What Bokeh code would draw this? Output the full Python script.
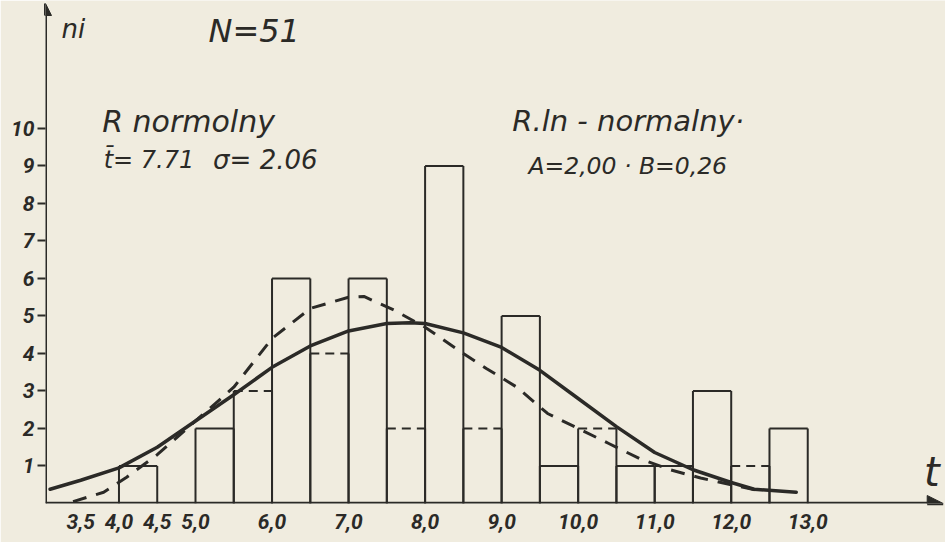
from bokeh.plotting import figure
from bokeh.models import Label, Arrow, NormalHead, FixedTicker, Range1d, ColumnDataSource
from bokeh.embed import file_html
from bokeh.resources import INLINE

# ---------------- data ----------------
n_total = 51
bin_lefts = [4.0, 4.5, 5.0, 5.5, 6.0, 6.5, 7.0, 7.5, 8.0, 8.5, 9.0, 9.5, 10.0, 10.5, 11.0, 11.5, 12.0, 12.5]
bin_width = 0.5
counts = [1, 0, 2, 3, 6, 4, 6, 2, 9, 2, 5, 1, 2, 1, 1, 3, 1, 2]
dashed_top_bins = [5.5, 6.5, 7.5, 8.5, 10.0, 12.0]

# normal curve (solid)
normal_t = [3.1, 3.5, 4.0, 4.5, 5.0, 5.5, 6.0, 6.5, 7.0, 7.5, 7.8, 8.0, 8.5, 9.0, 9.5, 10.0, 10.5, 11.0, 11.5, 12.0, 12.3, 12.85]
normal_n = [0.38, 0.62, 0.95, 1.5, 2.2, 2.9, 3.63, 4.2, 4.6, 4.8, 4.82, 4.8, 4.55, 4.16, 3.55, 2.8, 2.05, 1.36, 0.9, 0.56, 0.38, 0.3]

# log-normal curve (dashed)
lognormal_t = [3.4, 3.8, 4.1, 4.5, 5.0, 5.5, 6.0, 6.5, 7.0, 7.2, 7.6, 8.0, 8.5, 8.8, 9.2, 9.6, 10.0, 10.4, 10.8, 11.2, 11.6, 12.0, 12.4]
lognormal_n = [0.05, 0.3, 0.7, 1.3, 2.2, 3.1, 4.4, 5.2, 5.5, 5.52, 5.15, 4.7, 4.0, 3.6, 3.1, 2.4, 2.0, 1.6, 1.2, 0.9, 0.68, 0.5, 0.33]

x_ticks = [3.5, 4.0, 4.5, 5.0, 6.0, 7.0, 8.0, 9.0, 10.0, 11.0, 12.0, 13.0]
x_tick_labels = ["3,5", "4,0", "4,5", "5,0", "6,0", "7,0", "8,0", "9,0", "10,0", "11,0", "12,0", "13,0"]
y_ticks = [1, 2, 3, 4, 5, 6, 7, 8, 9, 10]
y_tick_labels = ["1", "2", "3", "4", "5", "6", "7", "8", "9", "10"]

# ---------------- styling ----------------
INK = "#2b2a27"
BG = "#f0ecdf"
FONT = "DejaVu Sans"
TICK_FONT = "Roboto"

X0, X1 = 3.04, 14.80
Y0, Y1 = 0.0, 13.41

p = figure(width=945, height=542, output_backend="svg", toolbar_location=None,
           x_range=Range1d(X0, X1), y_range=Range1d(Y0, Y1),
           min_border_left=45, min_border_right=0, min_border_top=0, min_border_bottom=39)
p.background_fill_color = BG
p.border_fill_color = BG
p.outline_line_color = None
p.grid.visible = False

# axes
p.xaxis.ticker = FixedTicker(ticks=x_ticks)
p.xaxis.major_label_overrides = {t: l for t, l in zip(x_ticks, x_tick_labels)}
p.xaxis.axis_line_color = None
p.xaxis.major_tick_line_color = None
p.xaxis.minor_tick_line_color = None
p.xaxis.major_tick_out = 0
p.xaxis.major_tick_in = 0
p.xaxis.major_label_standoff = 10
p.xaxis.major_label_text_font = TICK_FONT
p.xaxis.major_label_text_font_style = "bold italic"
p.xaxis.major_label_text_font_size = "21px"
p.xaxis.major_label_text_color = INK

p.yaxis.ticker = FixedTicker(ticks=y_ticks)
p.yaxis.major_label_overrides = {t: l for t, l in zip(y_ticks, y_tick_labels)}
p.yaxis.axis_line_color = None
p.yaxis.major_tick_line_color = INK
p.yaxis.major_tick_line_width = 2
p.yaxis.major_tick_in = 0
p.yaxis.major_tick_out = 8
p.yaxis.minor_tick_line_color = None
p.yaxis.major_label_standoff = 3
p.yaxis.major_label_text_font = TICK_FONT
p.yaxis.major_label_text_font_style = "bold italic"
p.yaxis.major_label_text_font_size = "21px"
p.yaxis.major_label_text_color = INK

# histogram bars: sides solid, tops solid or dashed
lefts = [l for l, c in zip(bin_lefts, counts) if c > 0]
tops = [c for c in counts if c > 0]
rights = [l + bin_width for l in lefts]
bars = ColumnDataSource(dict(left=lefts, right=rights, top=tops,
                             zero=[0] * len(lefts)))
p.segment(x0="left", y0="zero", x1="left", y1="top", source=bars, line_color=INK, line_width=2)
p.segment(x0="right", y0="zero", x1="right", y1="top", source=bars, line_color=INK, line_width=2)

solid_src = ColumnDataSource(dict(
    left=[l for l in lefts if l not in dashed_top_bins],
    right=[l + bin_width for l in lefts if l not in dashed_top_bins],
    top=[c for l, c in zip(lefts, tops) if l not in dashed_top_bins]))
dashed_src = ColumnDataSource(dict(
    left=[l for l in lefts if l in dashed_top_bins],
    right=[l + bin_width for l in lefts if l in dashed_top_bins],
    top=[c for l, c in zip(lefts, tops) if l in dashed_top_bins]))
p.segment(x0="left", y0="top", x1="right", y1="top", source=solid_src, line_color=INK, line_width=2)
p.segment(x0="left", y0="top", x1="right", y1="top", source=dashed_src, line_color=INK,
          line_width=2, line_dash="9 6")

# fitted curves
p.line(normal_t, normal_n, line_color=INK, line_width=3.5, line_join="round", line_cap="round")
p.line(lognormal_t, lognormal_n, line_color=INK, line_width=3, line_dash="14 10")

# axis arrows
p.add_layout(Arrow(end=NormalHead(size=16, fill_color=INK, line_color=INK),
                   x_start=X0, y_start=0, x_end=X1 - 0.03, y_end=0,
                   line_color=INK, line_width=3.5))
p.add_layout(Arrow(end=NormalHead(size=12, fill_color=INK, line_color=INK),
                   x_start=X0, y_start=0, x_end=X0, y_end=Y1 - 0.08,
                   line_color=INK, line_width=3))

def label(x, y, text, size, align="left"):
    p.add_layout(Label(x=x, y=y, text=text, text_font=FONT, text_font_style="italic",
                       text_font_size=size, text_color=INK, text_align=align,
                       text_baseline="middle"))

label(3.25, 12.64, "ni", "26px")
label(5.17, 12.59, "N=51", "32px")
label(3.78, 10.19, "R normolny", "30px")
label(3.80, 9.15, "t\u0304= 7.71", "24px")
label(5.23, 9.15, "\u03c3= 2.06", "26px")
label(9.14, 10.21, "R.ln - normalny\u00b7", "29px")
label(9.35, 8.99, "A=2,00 \u00b7 B=0,26", "23.5px")
label(14.62, 0.83, "t", "40px", align="center")

html = file_html(p, INLINE)
html = html.replace("<body>", '<body style="background-color:%s">' % BG, 1)
open("out.html", "w").write(html)
